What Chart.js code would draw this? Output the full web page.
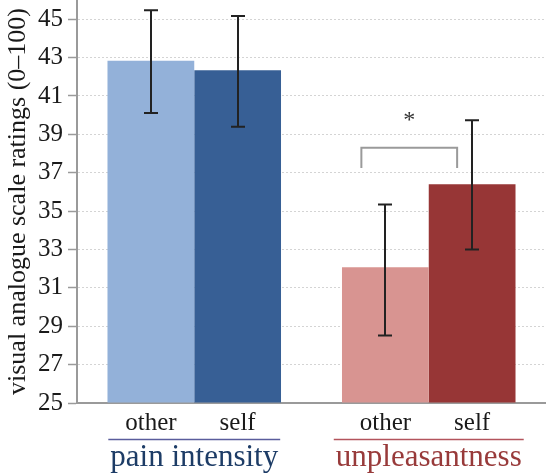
<!DOCTYPE html>
<html>
<head>
<meta charset="utf-8">
<script src="https://cdn.jsdelivr.net/npm/chart.js@4/dist/chart.umd.min.js"></script>
<style>
  html, body { margin: 0; padding: 0; background: #ffffff; }
  #wrap { width: 546px; height: 474px; position: relative; }
</style>
</head>
<body>
<div id="wrap"><canvas id="c" width="546" height="474"></canvas></div>
<script>
// ---- data ----
const groups = ['pain intensity', 'unpleasantness'];
const conditions = ['other', 'self'];
const otherMeans = [42.83, 32.07];
const selfMeans = [42.34, 36.40];
const otherLow = [40.11, 28.52];
const otherHigh = [45.47, 35.35];
const selfLow = [39.39, 33.00];
const selfHigh = [45.17, 39.73];
const yTicks = [25, 27, 29, 31, 33, 35, 37, 39, 41, 43, 45];
const yTitle = 'visual analogue scale ratings (0–100)';
const sigBracket = { group: 1, bottom: 37.25, top: 38.3, starAt: 39.95, label: '*' };

// ---- styles ----
const SERIF = '"Liberation Serif", "DejaVu Serif", serif';
const otherColors = ['#93b1d9', '#d89491'];
const selfColors = ['#375f95', '#973636'];
const groupColors = ['#1d3c66', '#983a3a'];
const underlineColors = ['#5a5d9c', '#b3545c'];

const errorBars = {
  id: 'errorBars',
  afterDatasetsDraw(chart) {
    const ctx = chart.ctx, y = chart.scales.y;
    const lows = [otherLow, selfLow], highs = [otherHigh, selfHigh];
    ctx.save();
    ctx.strokeStyle = '#222222';
    ctx.lineWidth = 2;
    for (let d = 0; d < 2; d++) {
      const meta = chart.getDatasetMeta(d);
      meta.data.forEach((bar, i) => {
        const x = Math.round(bar.x);
        const y1 = y.getPixelForValue(lows[d][i]);
        const y2 = y.getPixelForValue(highs[d][i]);
        ctx.beginPath();
        ctx.moveTo(x, y1); ctx.lineTo(x, y2);
        ctx.moveTo(x - 7, y1); ctx.lineTo(x + 7, y1);
        ctx.moveTo(x - 7, y2); ctx.lineTo(x + 7, y2);
        ctx.stroke();
      });
    }
    // significance bracket
    const g = sigBracket.group;
    const b0 = chart.getDatasetMeta(0).data[g], b1 = chart.getDatasetMeta(1).data[g];
    const xa = b0.x - 24, xb = b1.x - 15;
    const yt = y.getPixelForValue(sigBracket.top), yb = y.getPixelForValue(sigBracket.bottom);
    ctx.strokeStyle = '#9a9a9a';
    ctx.lineWidth = 2;
    ctx.beginPath();
    ctx.moveTo(xa, yb); ctx.lineTo(xa, yt); ctx.lineTo(xb, yt); ctx.lineTo(xb, yb);
    ctx.stroke();
    ctx.fillStyle = '#333333';
    ctx.font = '24px ' + SERIF;
    ctx.textAlign = 'center';
    ctx.textBaseline = 'middle';
    ctx.fillText(sigBracket.label, (xa + xb) / 2, y.getPixelForValue(sigBracket.starAt) + 5);
    ctx.restore();
  }
};

const xLabels = {
  id: 'xLabels',
  afterDraw(chart) {
    const ctx = chart.ctx;
    ctx.save();
    ctx.textAlign = 'center';
    ctx.textBaseline = 'alphabetic';
    ctx.font = '25px ' + SERIF;
    ctx.fillStyle = '#1a1a1a';
    for (let d = 0; d < 2; d++) {
      chart.getDatasetMeta(d).data.forEach(bar => {
        ctx.fillText(conditions[d], bar.x, 430);
      });
    }
    ctx.font = '31px ' + SERIF;
    groups.forEach((gname, i) => {
      const cx = chart.scales.x.getPixelForValue(i);
      const w = ctx.measureText(gname).width + 4;
      ctx.strokeStyle = underlineColors[i];
      ctx.lineWidth = 1.6;
      ctx.beginPath();
      ctx.moveTo(cx - w / 2, 439.5); ctx.lineTo(cx + w / 2, 439.5);
      ctx.stroke();
      ctx.fillStyle = groupColors[i];
      ctx.fillText(gname, cx, 466);
    });
    ctx.restore();
  }
};

new Chart(document.getElementById('c'), {
  type: 'bar',
  data: {
    labels: groups,
    datasets: [
      { label: conditions[0], data: otherMeans, backgroundColor: otherColors, borderWidth: 0 },
      { label: conditions[1], data: selfMeans, backgroundColor: selfColors, borderWidth: 0 }
    ]
  },
  options: {
    responsive: false,
    animation: false,
    devicePixelRatio: 1,
    layout: { padding: { top: 0, right: 0, bottom: 0, left: 0 } },
    plugins: { legend: { display: false }, tooltip: { enabled: false } },
    datasets: { bar: { categoryPercentage: 0.74, barPercentage: 1.0, base: 25 } },
    scales: {
      x: {
        ticks: { display: false },
        grid: { display: false, drawTicks: false },
        border: { display: true, color: '#9a9a9a', width: 2 },
        afterFit(scale) {
          scale.height = 71;
          scale.paddingLeft = 0; scale.paddingRight = 0;
          scale.paddingTop = 0; scale.paddingBottom = 0;
        }
      },
      y: {
        min: 25,
        max: 46,
        afterBuildTicks(scale) { scale.ticks = yTicks.map(v => ({ value: v })); },
        ticks: {
          color: '#1a1a1a',
          font: { family: SERIF, size: 25 },
          padding: 5,
          autoSkip: false
        },
        grid: {
          color: '#d4d4d4',
          lineWidth: 1,
          drawTicks: true,
          tickLength: 9,
          tickColor: '#9a9a9a',
          tickWidth: 1.5,
          tickBorderDash: []
        },
        border: { display: true, color: '#9a9a9a', width: 2, dash: [2, 2] },
        title: {
          display: true,
          text: yTitle,
          color: '#1a1a1a',
          font: { family: SERIF, size: 26 },
          padding: { top: 3, bottom: 2 }
        },
        afterFit(scale) {
          scale.width = 77;
          scale.paddingTop = 0; scale.paddingBottom = 0;
          scale.paddingLeft = 0; scale.paddingRight = 0;
        }
      }
    }
  },
  plugins: [errorBars, xLabels]
});
</script>
</body>
</html>
